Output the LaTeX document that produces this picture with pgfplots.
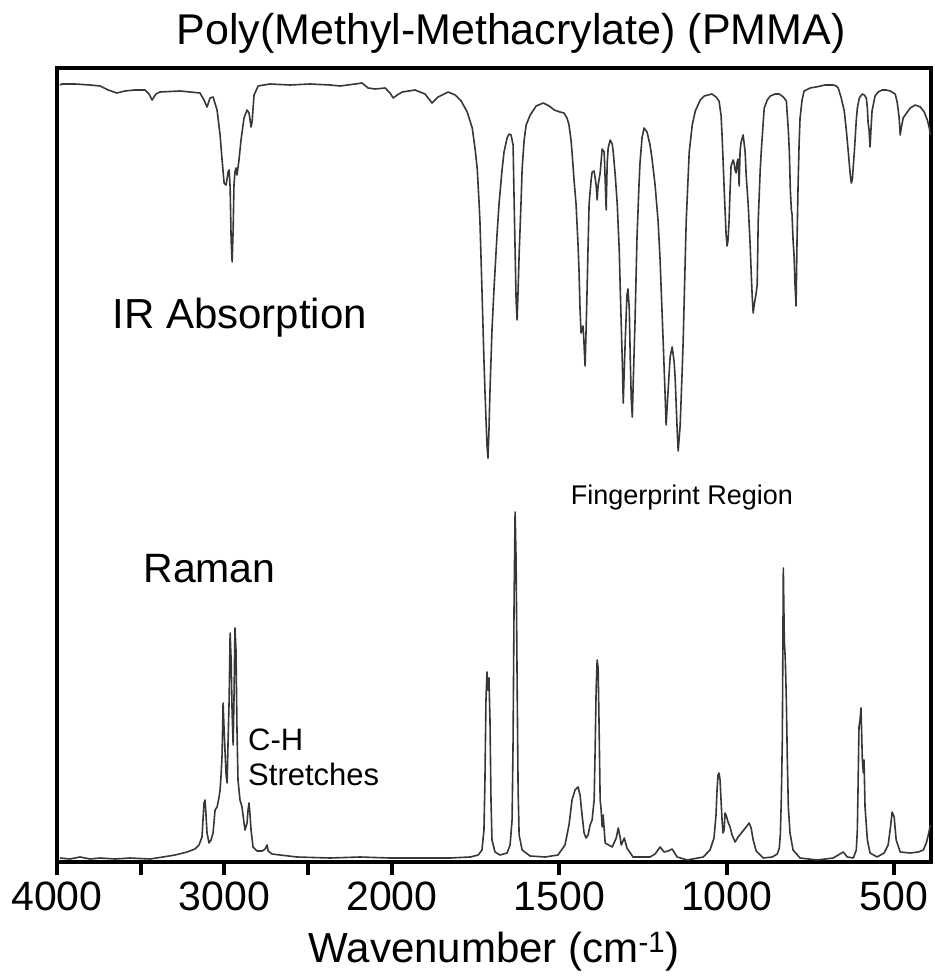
\documentclass[border=0pt]{standalone}
\usepackage{fontspec}
\setmainfont{Liberation Sans}
\usepackage{pgfplots}
\usepackage{pgfplotstable}
\pgfplotsset{compat=1.18}

\definecolor{spec}{RGB}{55,55,55}

% IR absorption trace: wavenumber (cm^-1), height (arb.)
\pgfplotstableread{
w v
3982 777
3970 778
3892 778
3803 777
3743 776
3695 772
3642 769
3594 771
3534 772
3474 772
3450 768
3432 762
3409 768
3385 770
3265 771
3146 769
3122 762
3104 755
3086 764
3068 765
3044 752
3026 727
3014 702
3002 679
2990 677
2978 690
2972 692
2966 675
2960 622
2954 600
2948 632
2943 677
2937 690
2931 694
2925 687
2913 702
2901 722
2883 744
2865 752
2853 749
2841 735
2835 740
2823 767
2799 776
2728 778
2608 777
2489 778
2369 777
2309 776
2220 778
2178 779
2142 774
2100 773
2040 774
2011 769
1996 764
1984 767
1969 770
1931 772
1901 768
1880 759
1862 765
1832 770
1811 767
1793 761
1775 750
1760 734
1751 712
1745 693
1740 662
1737 641
1731 573
1725 502
1722 471
1716 417
1713 404
1710 432
1707 471
1701 532
1695 573
1686 627
1680 658
1671 692
1665 710
1656 724
1650 728
1644 727
1638 717
1635 662
1632 612
1629 562
1626 542
1623 572
1620 607
1614 662
1611 693
1605 722
1599 737
1587 747
1569 756
1548 759
1530 756
1515 752
1498 750
1486 749
1477 744
1471 737
1465 722
1462 710
1456 682
1450 658
1444 617
1441 590
1438 552
1435 529
1429 536
1426 517
1423 496
1420 532
1417 573
1414 617
1411 658
1405 682
1402 690
1396 691
1390 677
1387 662
1384 677
1378 689
1372 713
1366 710
1363 682
1360 652
1357 699
1354 714
1348 722
1342 718
1339 710
1333 687
1327 658
1321 612
1318 573
1312 502
1309 459
1306 492
1303 522
1298 567
1295 573
1291 553
1288 502
1285 462
1282 445
1279 482
1274 539
1268 624
1262 677
1259 699
1253 724
1247 734
1238 730
1229 717
1223 703
1214 677
1205 641
1199 602
1190 522
1184 467
1181 437
1175 472
1169 505
1163 515
1157 500
1154 484
1148 432
1145 411
1139 437
1133 492
1130 522
1124 602
1121 641
1112 710
1103 737
1094 751
1079 762
1067 766
1044 768
1032 765
1023 761
1017 747
1014 727
1011 702
1008 676
1005 652
1002 628
999 616
996 622
993 641
990 672
987 696
981 702
978 699
975 692
972 689
969 700
966 703
963 676
960 712
957 720
951 727
945 710
942 687
936 658
930 617
927 590
924 566
921 549
918 557
912 569
909 577
906 641
900 692
897 710
891 740
888 754
879 762
870 766
855 768
843 768
831 765
822 761
816 732
813 710
810 672
807 652
805 648
802 622
799 607
796 577
793 556
790 622
787 676
784 717
781 744
775 762
769 771
751 774
733 775
706 777
682 777
673 776
667 774
658 764
649 751
643 732
637 710
631 687
628 679
625 682
619 710
613 742
610 754
604 764
595 768
589 767
583 764
580 754
578 740
575 732
572 715
569 734
566 751
557 766
548 770
536 772
524 772
512 771
497 768
491 760
485 744
482 727
479 734
473 744
467 747
452 754
437 757
422 755
410 750
401 742
395 734
392 727
}\irdata

% Raman trace: wavenumber (cm^-1), height (arb.)
\pgfplotstableread{
w v
3982 4
3922 3
3863 5
3803 3
3743 4
3653 3
3564 4
3444 3
3367 5
3295 7
3223 10
3176 13
3152 17
3134 25
3128 42
3122 59
3116 62
3110 47
3104 29
3092 19
3080 22
3068 29
3056 52
3044 55
3032 65
3026 72
3020 87
3014 107
3008 159
3002 132
2996 109
2990 87
2984 79
2978 122
2972 162
2966 229
2960 202
2954 149
2948 117
2943 162
2937 234
2931 212
2925 132
2919 82
2907 62
2895 55
2883 39
2877 32
2865 39
2859 52
2853 59
2847 47
2841 32
2829 15
2805 11
2775 11
2757 13
2745 17
2739 11
2716 8
2668 7
2566 5
2369 4
2190 5
2011 4
1916 4
1826 4
1766 5
1742 7
1731 12
1725 32
1722 82
1719 162
1716 190
1713 172
1710 184
1707 142
1704 62
1701 22
1692 10
1677 7
1656 9
1647 17
1641 42
1638 122
1635 262
1632 350
1629 302
1626 182
1623 72
1620 27
1611 12
1587 6
1542 5
1504 7
1483 17
1471 37
1462 62
1453 72
1444 75
1438 67
1432 47
1426 29
1420 24
1414 27
1408 37
1402 42
1396 62
1393 112
1390 172
1387 202
1384 194
1381 132
1378 62
1375 52
1372 35
1369 47
1363 19
1342 15
1330 24
1324 34
1318 24
1315 17
1306 24
1298 14
1280 5
1229 5
1214 8
1199 15
1187 10
1175 11
1163 13
1148 5
1118 2
1070 5
1050 12
1038 24
1032 47
1029 72
1026 87
1023 89
1020 82
1017 62
1014 42
1011 29
1008 32
1005 49
1002 47
996 40
990 35
984 27
975 20
966 25
954 30
942 35
933 39
927 34
921 22
912 11
891 4
864 5
849 8
843 14
840 27
837 62
834 122
831 294
828 222
825 202
822 162
819 102
816 55
811 29
802 12
781 4
730 2
682 4
667 7
652 10
640 5
622 4
613 12
610 32
608 72
605 135
602 142
599 154
595 102
592 89
590 102
587 55
580 22
572 9
551 5
530 9
518 17
512 32
506 50
500 45
494 22
482 10
452 9
428 10
413 12
404 19
398 27
392 37
}\ramandata

\newcommand{\wtrafo}{\thisrow{w}>=2000 ? (4000-\thisrow{w})/1000 : 2+(2000-\thisrow{w})/500}

\begin{document}
\begin{tikzpicture}
\begin{axis}[
  scale only axis,
  width=874pt, height=794pt,
  xmin=0, xmax=5.22,
  ymin=0, ymax=794,
  axis line style={line width=4pt, black},
  ytick=\empty,
  xtick={0,0.5,1,1.5,2,3,4,5},
  xticklabels={4000,,3000,,2000,1500,1000,500},
  xtick pos=bottom,
  tick align=outside,
  major tick length=13pt,
  tick style={line width=4pt, black},
  xticklabel style={font=\fontsize{41}{41}\selectfont, anchor=base, yshift=-35pt},
  title={Poly(Methyl-Methacrylate) (PMMA)},
  title style={font=\fontsize{43}{43}\selectfont, at={(axis description cs:0.5,1)}, anchor=base, yshift=17pt, xshift=17pt},
  xlabel={Wavenumber (cm\textsuperscript{-1})},
  xlabel style={font=\fontsize{42}{42}\selectfont, at={(axis description cs:0.5,0)}, anchor=base, yshift=-100pt},
  clip=true,
]
\addplot[spec, line width=1.6pt, line join=round] table[x expr={\wtrafo}, y=v] {\irdata};
\addplot[spec, line width=1.6pt, line join=round] table[x expr={\wtrafo}, y=v] {\ramandata};

\node[anchor=base west, font=\fontsize{42}{42}\selectfont, inner sep=0pt] at (axis cs:0.33,533) {IR Absorption};
\node[anchor=base west, font=\fontsize{41}{41}\selectfont, inner sep=0pt] at (axis cs:0.515,279) {Raman};
\node[anchor=base east, font=\fontsize{27}{27}\selectfont, inner sep=0pt] at (axis cs:4.397,357) {Fingerprint Region};
\node[anchor=base west, font=\fontsize{31}{37}\selectfont, inner sep=0pt, align=left] at (axis cs:1.141,112) {C-H};
\node[anchor=base west, font=\fontsize{31}{37}\selectfont, inner sep=0pt, align=left] at (axis cs:1.141,77) {Stretches};
\end{axis}
\pgfresetboundingbox
\path ([shift={(-57pt,-116pt)}]current axis.south west) rectangle ([shift={(4pt,68pt)}]current axis.north east);
\end{tikzpicture}
\end{document}
